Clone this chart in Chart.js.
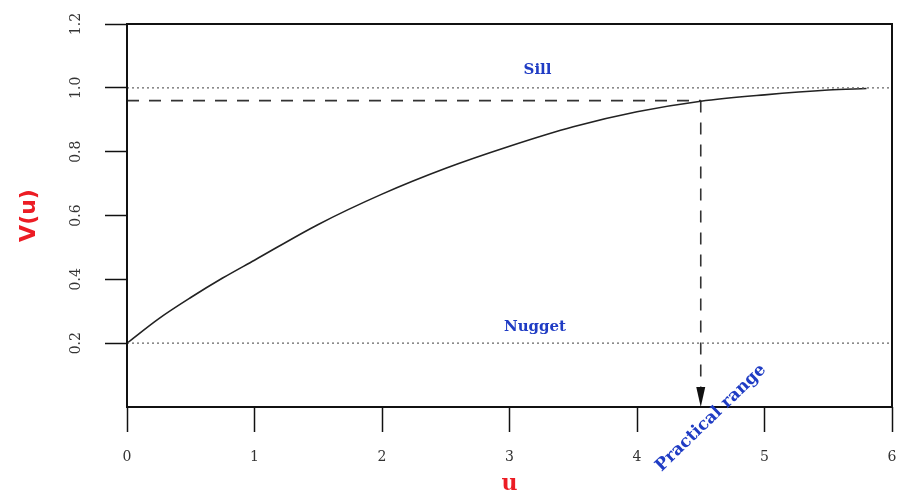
<!DOCTYPE html>
<html>
<head>
<meta charset="utf-8">
<script src="https://cdn.jsdelivr.net/npm/chart.js"></script>
<style>
  body { margin: 0; background: #fff; }
</style>
</head>
<body>
<canvas id="myChart" width="903" height="495"></canvas>
<script>
// variogram curve
var uValues = [0, 0.25, 0.5, 0.75, 1, 1.5, 2, 2.5, 3, 3.5, 4, 4.5, 5, 5.5, 5.8];
var vValues = [0.2, 0.277, 0.343, 0.404, 0.46, 0.572, 0.667, 0.748, 0.817, 0.878, 0.925, 0.958, 0.978, 0.993, 0.998];

var sill = 1.0;
var nugget = 0.2;
var rangeU = 4.5;     // practical range
var rangeV = 0.96;    // 95% of sill
var xTicks = [0, 1, 2, 3, 4, 5, 6];
var yTicks = [0.2, 0.4, 0.6, 0.8, 1.0, 1.2];

var blue = '#1f3cc4';
var red = '#ec1c24';

var curve = uValues.map(function (u, i) { return { x: u, y: vValues[i] }; });

function noPad(s) {
    s.paddingLeft = 0; s.paddingRight = 0;
    s.paddingTop = 0; s.paddingBottom = 0;
}

var annot = {
    id: 'annot',
    afterDatasetsDraw: function (chart) {
        var ctx = chart.ctx, a = chart.chartArea;
        var x = chart.scales.x, y = chart.scales.y;
        ctx.save();
        // box round the plot
        ctx.strokeStyle = '#111';
        ctx.lineWidth = 2;
        ctx.strokeRect(a.left, a.top, a.right - a.left, a.bottom - a.top);

        // arrow head on the range line
        var ax = x.getPixelForValue(rangeU), ay = y.getPixelForValue(0);
        ctx.fillStyle = '#111';
        ctx.beginPath();
        ctx.moveTo(ax, ay);
        ctx.lineTo(ax - 4.5, ay - 20);
        ctx.lineTo(ax + 4.5, ay - 20);
        ctx.closePath();
        ctx.fill();

        // labels
        ctx.fillStyle = blue;
        ctx.font = 'bold 15px "DejaVu Serif"';
        ctx.textAlign = 'center';
        ctx.textBaseline = 'middle';
        ctx.fillText('Sill', x.getPixelForValue(3.22), y.getPixelForValue(sill + 0.055));
        ctx.fillText('Nugget', x.getPixelForValue(3.2), y.getPixelForValue(nugget + 0.05));

        ctx.translate(x.getPixelForValue(4.58), ay + 11);
        ctx.rotate(-44 * Math.PI / 180);
        ctx.font = 'bold 17px "DejaVu Serif"';
        ctx.fillText('Practical range', 0, 0);
        ctx.restore();
    }
};

var ctx = document.getElementById('myChart').getContext('2d');
var chart = new Chart(ctx, {
    type: 'scatter',
    data: {
        datasets: [{
            // sill
            data: [{ x: 0, y: sill }, { x: 6, y: sill }],
            showLine: true,
            borderColor: '#666',
            borderWidth: 1.2,
            borderDash: [2, 3],
            pointRadius: 0
        }, {
            // nugget
            data: [{ x: 0, y: nugget }, { x: 6, y: nugget }],
            showLine: true,
            borderColor: '#666',
            borderWidth: 1.2,
            borderDash: [2, 3],
            pointRadius: 0
        }, {
            data: curve,
            showLine: true,
            borderColor: '#222',
            borderWidth: 1.6,
            cubicInterpolationMode: 'monotone',
            pointRadius: 0
        }, {
            data: [{ x: 0, y: rangeV }, { x: rangeU, y: rangeV }],
            showLine: true,
            borderColor: '#333',
            borderWidth: 1.6,
            borderDash: [12, 10],
            pointRadius: 0
        }, {
            data: [{ x: rangeU, y: rangeV }, { x: rangeU, y: 0.05 }],
            showLine: true,
            borderColor: '#333',
            borderWidth: 1.6,
            borderDash: [12, 10],
            pointRadius: 0
        }]
    },
    options: {
        responsive: false,
        devicePixelRatio: 1,
        animation: false,
        layout: { padding: { top: 24, right: 11, left: 0, bottom: 0 } },
        plugins: {
            legend: { display: false },
            tooltip: { enabled: false }
        },
        scales: {
            x: {
                type: 'linear',
                min: 0,
                max: 6,
                afterBuildTicks: function (s) { s.ticks = xTicks.map(function (v) { return { value: v }; }); },
                afterFit: function (s) { s.height = 88; noPad(s); },
                border: { display: false },
                grid: { drawOnChartArea: false, tickLength: 25, tickColor: '#111', tickWidth: 1.5 },
                ticks: {
                    padding: 17,
                    color: '#333',
                    font: { family: 'DejaVu Serif', size: 14 }
                },
                title: {
                    display: true,
                    text: 'u',
                    color: red,
                    font: { family: 'DejaVu Serif', weight: 'bold', size: 22, lineHeight: 1 },
                    padding: { top: 0, bottom: 0 }
                }
            },
            y: {
                min: 0,
                max: 1.2,
                afterBuildTicks: function (s) { s.ticks = yTicks.map(function (v) { return { value: v }; }); },
                afterFit: function (s) { s.width = 127; noPad(s); },
                border: { display: false },
                grid: { drawOnChartArea: false, tickLength: 22, tickColor: '#111', tickWidth: 1.5 },
                ticks: {
                    minRotation: 90,
                    maxRotation: 90,
                    crossAlign: 'center',
                    padding: 18,
                    color: '#333',
                    font: { family: 'DejaVu Serif', size: 14 },
                    callback: function (v) { return v.toFixed(1); }
                },
                title: {
                    display: true,
                    text: 'V(u)',
                    color: red,
                    font: { family: 'DejaVu Sans', weight: 'bold', size: 22 },
                    padding: { top: 16, bottom: 0 }
                }
            }
        }
    },
    plugins: [annot]
});
</script>
</body>
</html>
